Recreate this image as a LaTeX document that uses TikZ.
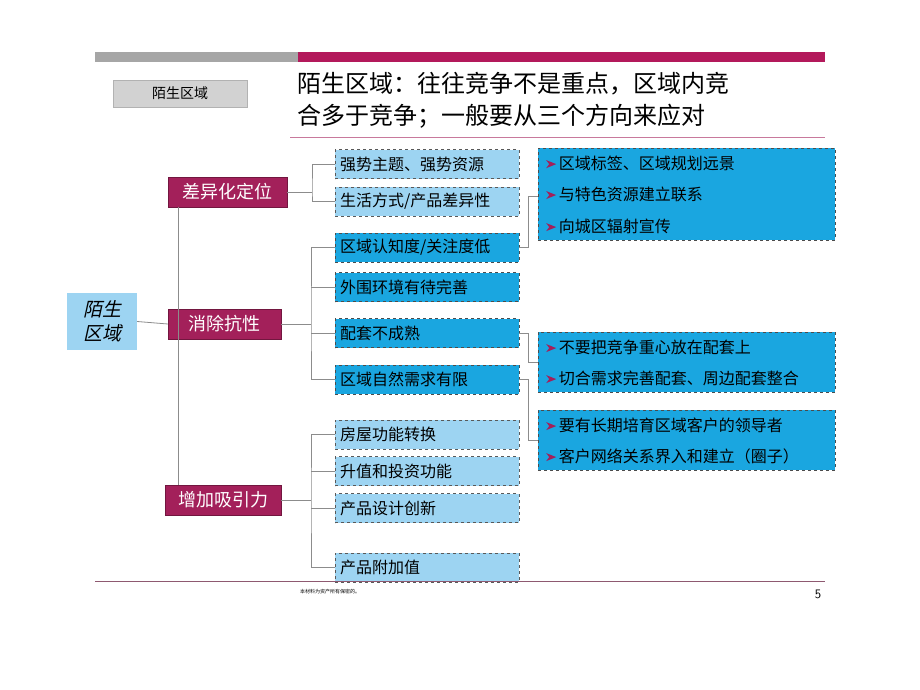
\documentclass[tikz,border=0pt]{standalone}
\usepackage{fontspec}
\newfontfamily\cjk{Noto Sans CJK SC}
\newfontfamily\cjkit[FakeSlant=0.22]{Noto Sans CJK SC}
\definecolor{plum}{HTML}{A3205A}
\definecolor{barred}{HTML}{B3195B}
\definecolor{lightblue}{HTML}{9DD4F2}
\definecolor{darkblue}{HTML}{1AA6E0}
\definecolor{linegray}{HTML}{8C8C8C}
\tikzset{
  levelbox/.style={fill=plum, draw=plum!70!black, text=white, font=\cjk\fontsize{18}{18}\selectfont, inner sep=0pt},
  leaflight/.style={fill=lightblue, draw=gray!70!black, dashed, font=\cjk\fontsize{16}{16}\selectfont, inner sep=0pt},
  leafdark/.style={fill=darkblue, draw=black!70, dashed, font=\cjk\fontsize{16}{16}\selectfont, inner sep=0pt},
  link/.style={draw=linegray, line width=0.8pt},
  bullet/.style={anchor=west, font=\cjk\fontsize{16}{16}\selectfont, inner sep=0pt}
}
\newcommand{\tri}{\tikz[baseline=-1pt]\fill[plum] (0,0) -- (10pt,4pt) -- (0,8pt) -- (3pt,4pt) -- cycle;\,}
\begin{document}
\begin{tikzpicture}[x=1pt, y=-1pt]
\useasboundingbox[fill=white] (0,0) rectangle (920,690);

% top bars
\fill[gray!70] (95,52) rectangle (298,62);
\fill[barred] (298,52) rectangle (825,62);

% section label and title
\node[fill=gray!35, draw=gray!60, minimum width=134pt, minimum height=27pt, font=\cjk\fontsize{14}{14}\selectfont] (tag) at (180,93.5) {陌生区域};
\node[anchor=north west, align=left, font=\cjk\fontsize{24}{32}\selectfont, inner sep=0pt] (title) at (297,72) {陌生区域：往往竞争不是重点，区域内竞\\合多于竞争；一般要从三个方向来应对};
\draw[plum!60, line width=0.6pt] (290,137) -- (825,137);

% root
\node[fill=lightblue, minimum width=70pt, minimum height=57pt, align=center, font=\cjkit\fontsize{19}{24}\selectfont] (root) at (102,321.5) {陌生\\区域};

% level one
\node[levelbox, minimum width=119pt, minimum height=30pt] (diff) at (227.5,192) {差异化定位};
\node[levelbox, minimum width=113pt, minimum height=30pt] (resist) at (224.5,324) {消除抗性};
\node[levelbox, minimum width=116pt, minimum height=30pt] (attract) at (223,500) {增加吸引力};

% leaves
\foreach \name/\y/\sty/\txt in {
  l1/164/leaflight/{强势主题、强势资源},
  l2/201.5/leaflight/{生活方式/产品差异性},
  l3/247.5/leafdark/{区域认知度/关注度低},
  l4/287/leafdark/{外围环境有待完善},
  l5/333/leafdark/{配套不成熟},
  l6/379.5/leafdark/{区域自然需求有限},
  l7/434.5/leaflight/{房屋功能转换},
  l8/471/leaflight/{升值和投资功能},
  l9/508/leaflight/{产品设计创新},
  l10/567.5/leaflight/{产品附加值}}
  \node[\sty, minimum width=184pt, minimum height=29pt, text width=174pt, align=left] (\name) at (427,\y) {\txt};

% right boxes
\node[leafdark, minimum width=297pt, minimum height=92pt] (r1) at (686.5,194) {};
\node[bullet] at (546,163) {\tri 区域标签、区域规划远景};
\node[bullet] at (546,194) {\tri 与特色资源建立联系};
\node[bullet] at (546,226) {\tri 向城区辐射宣传};
\node[leafdark, minimum width=297pt, minimum height=60pt] (r2) at (686.5,362) {};
\node[bullet] at (546,347) {\tri 不要把竞争重心放在配套上};
\node[bullet] at (546,378) {\tri 切合需求完善配套、周边配套整合};
\node[leafdark, minimum width=297pt, minimum height=60pt] (r3) at (686.5,440) {};
\node[bullet] at (546,425) {\tri 要有长期培育区域客户的领导者};
\node[bullet] at (546,456) {\tri 客户网络关系界入和建立（圈子）};

% trunk
\draw[link] (diff.south -| 178,0) -- (attract.north -| 178,0);
\draw[link] (root.east) -- (resist.west);

% branches
\draw[link] (diff.east) -- (312,192);
\draw[link] (l1.west) -| (312,192) |- (l2.west);
\draw[link] (resist.east) -- (311,324);
\draw[link] (l3.west) -| (311,324) |- (l6.west);
\draw[link] (l4.west) -- (311,287);
\draw[link] (l5.west) -- (311,333);
\draw[link] (attract.east) -- (311,500);
\draw[link] (l7.west) -| (311,500) |- (l10.west);
\draw[link] (l8.west) -- (311,471);
\draw[link] (l9.west) -- (311,508);

% brackets to right boxes
\draw[link] (l3.east) -- ++(9,0) |- (r1.west |- 0,196);
\draw[link] (l5.east) -- ++(9,0) |- (r2.west);
\draw[link] (l6.east) -- ++(9,0) |- (r3.west);

% footer
\draw[plum!40!gray, line width=0.8pt] (95,581) -- (825,581);
\node[anchor=west, font=\cjk\fontsize{5}{5}\selectfont, inner sep=0pt] (foot) at (300,592) {本材料为资产所有保密的。};
\node[font=\sffamily\fontsize{13}{13}\selectfont] (page) at (818,594) {5};
\end{tikzpicture}
\end{document}
